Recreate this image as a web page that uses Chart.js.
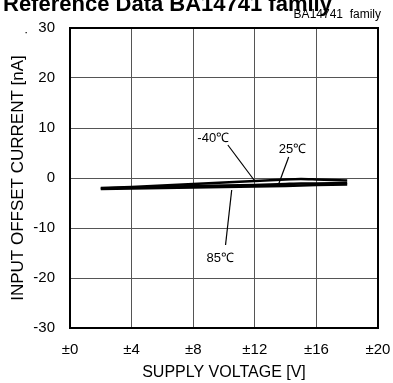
<!DOCTYPE html>
<html>
<head>
<meta charset="utf-8">
<script src="https://cdn.jsdelivr.net/npm/chart.js@4/dist/chart.umd.min.js"></script>
<style>
  html, body { margin: 0; padding: 0; background: #fff; }
  #wrap { width: 393px; height: 383px; }
</style>
</head>
<body>
<div id="wrap"><canvas id="ios"></canvas></div>
<script>
// supply voltage (±V)
const voltage = [2, 4, 6, 8, 10, 12, 14, 15, 16, 18];
// input offset current [nA] per temperature
const iosMinus40 = [-2.0, -1.8, -1.5, -1.2, -0.9, -0.6, -0.3, -0.2, -0.3, -0.5];
const ios25 = [-2.1, -1.9, -1.8, -1.6, -1.5, -1.4, -1.2, -1.1, -1.1, -1.0];
const ios85 = [-2.2, -2.1, -2.0, -1.9, -1.8, -1.7, -1.6, -1.5, -1.4, -1.3];
const xTicks = [0, 4, 8, 12, 16, 20];
const yTicks = [-30, -20, -10, 0, 10, 20, 30];

// temperature labels: text position and leader line ends (data units)
const tempLabels = [
  { text: '-40\u2103', tx: 9.3, ty: 8.0, lx: 10.25, ly: 6.6, px: 11.95, py: -0.4 },
  { text: '25\u2103', tx: 14.45, ty: 5.8, lx: 14.2, ly: 4.2, px: 13.55, py: -1.2 },
  { text: '85\u2103', tx: 9.75, ty: -16.0, lx: 10.5, ly: -2.4, px: 10.1, py: -13.4 }
];

function toPts(ys) {
  return voltage.map((v, i) => ({ x: v, y: ys[i] }));
}

const FONT = '"Liberation Sans", Arial, sans-serif';

const extras = {
  id: 'extras',
  afterDatasetsDraw(chart) {
    const { ctx, chartArea: a, scales: { x, y } } = chart;
    ctx.save();
    // frame
    ctx.strokeStyle = '#000';
    ctx.lineWidth = 2;
    ctx.strokeRect(a.left, a.top, a.right - a.left, a.bottom - a.top);
    // leader lines and labels
    ctx.lineWidth = 1.2;
    ctx.fillStyle = '#000';
    ctx.font = '13px ' + FONT;
    ctx.textAlign = 'center';
    ctx.textBaseline = 'middle';
    tempLabels.forEach(t => {
      ctx.beginPath();
      ctx.moveTo(x.getPixelForValue(t.lx), y.getPixelForValue(t.ly));
      ctx.lineTo(x.getPixelForValue(t.px), y.getPixelForValue(t.py));
      ctx.stroke();
      ctx.fillText(t.text, x.getPixelForValue(t.tx), y.getPixelForValue(t.ty));
    });
    ctx.restore();
  },
  afterDraw(chart) {
    const ctx = chart.ctx;
    ctx.save();
    ctx.fillStyle = '#000';
    ctx.textBaseline = 'alphabetic';
    ctx.textAlign = 'left';
    ctx.font = 'bold 22px ' + FONT;
    ctx.fillText('Reference Data BA14741 family', 3, 11);
    ctx.font = '13px ' + FONT;
    ctx.fillText('\u00b7', 24, 36);
    ctx.textAlign = 'right';
    ctx.font = '12px ' + FONT;
    ctx.fillText('BA14741  family', 381, 18);
    ctx.restore();
  }
};

const lineStyle = { borderColor: '#000', borderWidth: 2.5, pointRadius: 0, tension: 0.2, fill: false };

new Chart(document.getElementById('ios'), {
  type: 'line',
  data: {
    datasets: [
      Object.assign({ label: '-40°C', data: toPts(iosMinus40) }, lineStyle),
      Object.assign({ label: '25°C', data: toPts(ios25) }, lineStyle),
      Object.assign({ label: '85°C', data: toPts(ios85) }, lineStyle)
    ]
  },
  options: {
    responsive: true,
    maintainAspectRatio: false,
    animation: false,
    layout: { padding: { top: 28, right: 0, left: 8, bottom: 0 } },
    plugins: { legend: { display: false }, tooltip: { enabled: false } },
    scales: {
      x: {
        type: 'linear', min: 0, max: 20,
        afterBuildTicks: s => { s.ticks = xTicks.map(v => ({ value: v })); },
        afterFit: s => { s.height = 55; s.paddingLeft = 0; s.paddingRight = 15; },
        ticks: { color: '#000', padding: 13, font: { size: 15, family: FONT },
                 callback: v => '\u00b1' + v },
        grid: { color: '#555', lineWidth: 1, drawTicks: false },
        border: { color: '#000', width: 2 },
        title: { display: true, text: 'SUPPLY VOLTAGE [V]', color: '#000', padding: { top: 4, bottom: 1 },
                 font: { size: 16, family: FONT } }
      },
      y: {
        min: -30, max: 30,
        afterBuildTicks: s => { s.ticks = yTicks.map(v => ({ value: v })); },
        afterFit: s => { s.width = 62; },
        ticks: { color: '#000', padding: 15, font: { size: 15, family: FONT } },
        grid: { color: '#555', lineWidth: 1, drawTicks: false },
        border: { color: '#000', width: 2 },
        title: { display: true, text: 'INPUT OFFSET CURRENT [nA]', color: '#000', padding: { top: 0, bottom: 4 },
                 font: { size: 17, family: FONT } }
      }
    }
  },
  plugins: [extras]
});
</script>
</body>
</html>
